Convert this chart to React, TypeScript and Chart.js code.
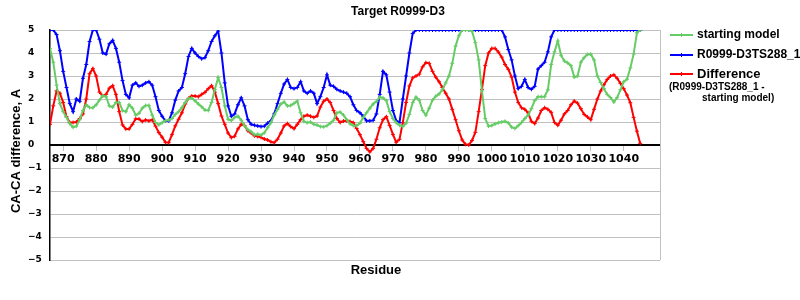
import React, { useEffect, useRef } from "react";
import { Chart, registerables } from "chart.js";

Chart.register(...registerables);

const residues = [
  866, 867, 868, 869, 870, 871, 872, 873, 874, 875,
  876, 877, 878, 879, 880, 881, 882, 883, 884, 885,
  886, 887, 888, 889, 890, 891, 892, 893, 894, 895,
  896, 897, 898, 899, 900, 901, 902, 903, 904, 905,
  906, 907, 908, 909, 910, 911, 912, 913, 914, 915,
  916, 917, 918, 919, 920, 921, 922, 923, 924, 925,
  926, 927, 928, 929, 930, 931, 932, 933, 934, 935,
  936, 937, 938, 939, 940, 941, 942, 943, 944, 945,
  946, 947, 948, 949, 950, 951, 952, 953, 954, 955,
  956, 957, 958, 959, 960, 961, 962, 963, 964, 965,
  966, 967, 968, 969, 970, 971, 972, 973, 974, 975,
  976, 977, 978, 979, 980, 981, 982, 983, 984, 985,
  986, 987, 988, 989, 990, 991, 992, 993, 994, 995,
  996, 997, 998, 999, 1000, 1001, 1002, 1003, 1004, 1005,
  1006, 1007, 1008, 1009, 1010, 1011, 1012, 1013, 1014, 1015,
  1016, 1017, 1018, 1019, 1020, 1021, 1022, 1023, 1024, 1025,
  1026, 1027, 1028, 1029, 1030, 1031, 1032, 1033, 1034, 1035,
  1036, 1037, 1038, 1039, 1040, 1041, 1042, 1043, 1044, 1045,
];

const startingModel = [
  4.2, 3.6, 2.6, 1.8, 1.45, 1.2, 0.93, 0.77, 0.82, 1.1,
  1.5, 1.75, 1.63, 1.62, 1.75, 1.95, 2.15, 2.1, 1.7, 1.65,
  1.85, 1.85, 1.5, 1.45, 1.75, 1.6, 1.3, 1.38, 1.6, 1.72,
  1.72, 1.3, 0.98, 0.88, 0.97, 1.06, 1.09, 1.15, 1.33, 1.45,
  1.62, 1.85, 2.02, 2.04, 1.92, 1.78, 1.66, 1.52, 1.5, 1.85,
  2.42, 2.93, 2.5, 1.7, 1.12, 1.06, 1.2, 1.25, 1.08, 0.83,
  0.67, 0.58, 0.45, 0.47, 0.43, 0.53, 0.75, 0.97, 1.3, 1.55,
  1.78, 1.87, 1.7, 1.72, 1.81, 1.91, 1.4, 1.03, 0.97, 1.0,
  0.9, 0.87, 0.8, 0.79, 0.84, 0.95, 1.08, 1.4, 1.43, 1.3,
  1.1, 0.92, 0.84, 0.84, 0.95, 1.2, 1.4, 1.6, 1.78, 1.9,
  2.08, 2.05, 1.93, 1.45, 1.15, 0.97, 0.86, 0.8, 0.95, 1.33,
  1.85, 2.08, 1.95, 1.5, 1.3, 1.6, 1.95, 2.12, 2.22, 2.4,
  2.7, 3.0, 3.55, 4.3, 4.75, 5.0, 5.0, 5.0, 4.95, 4.45,
  3.7, 2.35, 1.15, 0.82, 0.85, 0.92, 0.97, 1.0, 1.03, 0.96,
  0.78, 0.72, 0.84, 0.98, 1.15, 1.3, 1.58, 1.93, 2.1, 2.1,
  2.1, 2.4, 3.5, 4.05, 4.52, 3.9, 3.65, 3.57, 3.45, 2.95,
  3.0, 3.6, 3.8, 3.94, 3.95, 3.7, 3.0, 2.72, 2.45, 2.2,
  2.06, 1.87, 2.06, 2.4, 2.75, 2.86, 3.35, 3.95, 4.88, 5.0,
];

const tsModel = [
  5.0, 5.0, 4.8, 4.1, 3.2, 2.5, 1.8, 1.45, 2.0, 1.9,
  2.9, 3.5, 4.5, 5.0, 5.0, 4.6, 4.0, 3.95, 4.4, 4.55,
  4.2, 3.6, 2.8, 2.2, 2.05, 2.6, 2.7, 2.55, 2.6, 2.7,
  2.75, 2.6, 2.1, 1.5, 1.25, 1.05, 1.05, 1.4, 1.95, 2.35,
  2.5, 3.1, 3.85, 4.2, 4.0, 3.85, 3.75, 3.8, 4.1, 4.5,
  4.75, 4.95, 4.0, 2.7, 1.7, 1.25, 1.35, 1.75, 2.05, 1.7,
  1.1, 0.9, 0.86, 0.83, 0.8, 0.82, 0.95, 1.05, 1.35, 1.8,
  2.25, 2.65, 2.85, 2.5, 2.45, 2.5, 2.75, 2.35, 2.25, 2.35,
  2.25, 1.8, 2.1, 2.5, 3.05, 2.6, 2.55, 2.42, 2.35, 2.3,
  2.25, 2.1, 1.75, 1.5, 1.4, 1.25, 1.05, 1.05, 1.07, 1.35,
  2.2, 3.2, 3.05, 2.3, 1.5, 1.05, 0.97, 2.0, 3.0, 4.0,
  4.85, 5.0, 5.0, 5.0, 5.0, 5.0, 5.0, 5.0, 5.0, 5.0,
  5.0, 5.0, 5.0, 5.0, 5.0, 5.0, 5.0, 5.0, 5.0, 5.0,
  5.0, 5.0, 5.0, 5.0, 5.0, 5.0, 5.0, 5.0, 4.7, 4.15,
  3.7, 3.0, 2.45, 2.55, 2.85, 2.5, 2.42, 2.55, 3.3, 3.45,
  3.6, 4.05, 4.7, 5.0, 5.0, 5.0, 5.0, 5.0, 5.0, 5.0,
  5.0, 5.0, 5.0, 5.0, 5.0, 5.0, 5.0, 5.0, 5.0, 5.0,
  5.0, 5.0, 5.0, 5.0, 5.0, 5.0, 5.0, 5.0, 5.0, 5.0,
];

const difference = [
  0.9, 1.7, 2.35, 2.25, 1.85, 1.23, 0.98, 0.98, 1.0, 1.15,
  1.35, 2.0, 3.1, 3.32, 3.0, 2.3, 2.13, 2.2, 2.47, 2.58,
  2.2, 1.45, 0.87, 0.7, 0.7, 0.9, 1.14, 1.13, 1.02, 1.09,
  1.05, 1.1, 0.82, 0.54, 0.34, 0.12, 0.1, 0.45, 0.83, 1.12,
  1.4, 1.78, 2.03, 2.13, 2.13, 2.1, 2.2, 2.29, 2.45, 2.58,
  2.3, 1.8, 1.26, 0.9, 0.52, 0.32, 0.38, 0.7, 0.9, 0.85,
  0.62, 0.52, 0.4, 0.37, 0.33, 0.26, 0.22, 0.14, 0.1, 0.25,
  0.52, 0.83, 0.93, 0.8, 0.71, 0.9, 1.1, 1.25, 1.3, 1.25,
  1.2, 1.26, 1.65, 1.9, 2.0, 1.85, 1.5, 1.15, 0.98, 1.04,
  1.05, 1.02, 0.97, 0.72, 0.45, 0.15, -0.15, -0.3, -0.15, 0.25,
  0.75, 1.1, 1.23, 0.85, 0.46, 0.12, 0.25, 0.97, 1.85, 2.57,
  2.92, 3.0, 3.08, 3.4, 3.58, 3.55, 3.2, 2.95, 2.75, 2.5,
  2.25, 2.0, 1.55, 1.1, 0.62, 0.22, 0.03, 0.0, 0.2, 0.55,
  1.45, 2.42, 3.45, 4.0, 4.2, 4.2, 4.04, 3.82, 3.5, 3.29,
  2.95, 2.3, 1.85, 1.62, 1.55, 1.4, 1.03, 0.93, 1.17, 1.5,
  1.62, 1.55, 1.42, 0.98, 0.86, 1.08, 1.35, 1.5, 1.75, 1.91,
  1.82, 1.58, 1.33, 1.22, 1.1, 1.55, 2.0, 2.35, 2.62, 2.85,
  3.0, 3.05, 2.9, 2.68, 2.45, 2.17, 1.84, 1.2, 0.6, 0.07,
];

const xTickValues = [870, 880, 890, 900, 910, 920, 930, 940, 950, 960, 970, 980, 990, 1000, 1010, 1020, 1030, 1040];
const yTickValues = [-5, -4, -3, -2, -1, 0, 1, 2, 3, 4, 5];

const titleText = "Target R0999-D3";
const yTitle = "CA-CA difference, A";
const xTitle = "Residue";
const seriesNames = ["starting model", "R0999-D3TS288_1", "Difference"];
const diffNote = ["(R0999-D3TS288_1 -", "starting model)"];

const GREEN = "#66CC66";
const BLUE = "#0000FF";
const RED = "#FF0000";
const ARIAL = "'Liberation Sans', Arial, sans-serif";
const DEJAVU = "'DejaVu Sans', Verdana, sans-serif";

const toPoints = (vals: number[]) => vals.map((v, i) => ({ x: residues[i], y: v }));

const decorPlugin = {
  id: "decor",
  afterDraw(chart: any) {
    const ctx = chart.ctx as CanvasRenderingContext2D;
    const { right, top, bottom } = chart.chartArea;
    ctx.save();
    // right border of plot
    ctx.strokeStyle = "#c0c0c0";
    ctx.lineWidth = 1;
    ctx.beginPath();
    ctx.moveTo(Math.round(right) + 0.5, top);
    ctx.lineTo(Math.round(right) + 0.5, bottom);
    ctx.stroke();

    ctx.fillStyle = "#000";
    ctx.textAlign = "center";
    ctx.textBaseline = "middle";
    // chart title
    ctx.font = `bold 12px ${ARIAL}`;
    ctx.fillText(titleText, 398, 12);
    // axis titles
    ctx.font = `bold 13px ${ARIAL}`;
    ctx.fillText(xTitle, 376, 270);
    ctx.save();
    ctx.translate(16, 151);
    ctx.rotate(-Math.PI / 2);
    ctx.fillText(yTitle, 0, 0);
    ctx.restore();

    // legend
    const colors = [GREEN, BLUE, RED];
    const rows = [35, 55, 74];
    const sizes = [12, 12, 13];
    for (let i = 0; i < 3; i++) {
      const y = rows[i];
      ctx.strokeStyle = colors[i];
      ctx.lineWidth = 2;
      ctx.beginPath();
      ctx.moveTo(670, y);
      ctx.lineTo(693, y);
      ctx.stroke();
      ctx.lineWidth = 1;
      ctx.beginPath();
      ctx.moveTo(681.5, y - 2);
      ctx.lineTo(681.5, y + 2);
      ctx.stroke();
      ctx.fillStyle = "#000";
      ctx.font = `bold ${sizes[i]}px ${ARIAL}`;
      ctx.textAlign = "left";
      ctx.textBaseline = "middle";
      ctx.fillText(seriesNames[i], 697, y);
    }
    ctx.font = `bold 10px ${ARIAL}`;
    ctx.fillText(diffNote[0], 669, 87);
    ctx.fillText(diffNote[1], 702, 98);
    ctx.restore();
  },
};

export default function App() {
  const canvasRef = useRef<HTMLCanvasElement | null>(null);

  useEffect(() => {
    if (!canvasRef.current) return;
    const mk = (label: string, vals: number[], color: string) => ({
      label,
      data: toPoints(vals),
      borderColor: color,
      backgroundColor: color,
      borderWidth: 2,
      pointStyle: "cross",
      pointRadius: 2,
      pointBorderWidth: 1,
      pointBorderColor: color,
      pointHoverRadius: 2,
      tension: 0,
      fill: false,
    });
    const chart = new Chart(canvasRef.current, {
      type: "line",
      data: {
        datasets: [
          mk(seriesNames[0], startingModel, GREEN),
          mk(seriesNames[1], tsModel, BLUE),
          mk(seriesNames[2], difference, RED),
        ] as any,
      },
      plugins: [decorPlugin],
      options: {
        responsive: false,
        animation: false,
        devicePixelRatio: 1,
        layout: { padding: { left: 28, right: 140, top: 30, bottom: 40 } },
        plugins: {
          legend: { display: false },
          tooltip: { enabled: false },
          title: { display: false },
        },
        events: [],
        scales: {
          x: {
            type: "linear",
            min: 866,
            max: 1051,
            position: { y: 0 } as any,
            afterBuildTicks: (scale: any) => {
              scale.ticks = xTickValues.map((v) => ({ value: v }));
            },
            afterFit: (scale: any) => {
              scale.paddingLeft = 0;
              scale.paddingRight = 0;
            },
            grid: {
              drawOnChartArea: false,
              drawTicks: true,
              tickLength: 5,
              color: "#c0c0c0",
            },
            border: { display: true, color: "#000", width: 2 },
            ticks: {
              autoSkip: false,
              maxRotation: 0,
              minRotation: 0,
              padding: 3,
              color: "#000",
              font: { family: DEJAVU, size: 11, weight: "bold" },
              callback: (v: any) => String(v),
            },
          },
          y: {
            type: "linear",
            min: -5,
            max: 5,
            position: "left",
            afterBuildTicks: (scale: any) => {
              scale.ticks = yTickValues.map((v) => ({ value: v }));
            },
            afterFit: (scale: any) => {
              scale.width = 22;
              scale.paddingTop = 0;
              scale.paddingBottom = 0;
            },
            grid: {
              drawTicks: false,
              color: "#c0c0c0",
              lineWidth: 1,
            },
            border: { display: true, color: "#000", width: 1.5 },
            ticks: {
              crossAlign: "far",
              padding: 0,
              color: "#000",
              font: { family: DEJAVU, size: 9, weight: "bold" },
              callback: (v: any) => String(v).replace("-", "\u2212"),
            },
          },
        },
      },
    } as any);
    return () => chart.destroy();
  }, []);

  return (
    <div style={{ position: "absolute", left: 0, top: 0, width: 800, height: 300, background: "#fff" }}>
      <canvas ref={canvasRef} width={800} height={300} style={{ display: "block" }} />
    </div>
  );
}
